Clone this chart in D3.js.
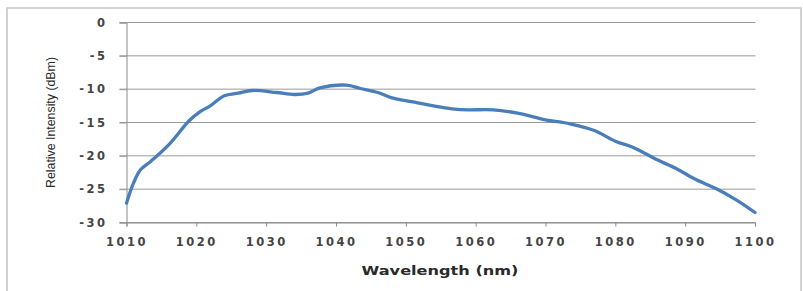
<!DOCTYPE html>
<html>
<head>
<meta charset="utf-8">
<script src="https://cdn.jsdelivr.net/npm/d3@7"></script>
<style>
  body { margin: 0; background: #fff; }
  svg { display: block; }
</style>
</head>
<body>
<div id="chart"></div>
<script>
// spectrum
var wavelength = [1010, 1011, 1012, 1013.5, 1016, 1019, 1020.5, 1022, 1024, 1026, 1028, 1031.5, 1034, 1036, 1037.7, 1041.5, 1043.5, 1046, 1048, 1051, 1055, 1057, 1059, 1062.5, 1066, 1070, 1073.5, 1077, 1080, 1082.5, 1086, 1088.7, 1091.6, 1094.4, 1097.3, 1100];
var intensity = [-27.1, -24.1, -22.1, -20.8, -18.4, -14.7, -13.4, -12.5, -11.0, -10.6, -10.2, -10.5, -10.8, -10.6, -9.8, -9.4, -9.9, -10.5, -11.3, -11.9, -12.7, -13.0, -13.1, -13.1, -13.6, -14.6, -15.2, -16.2, -17.8, -18.7, -20.6, -21.9, -23.6, -24.9, -26.6, -28.5];
var xTicks = [1010, 1020, 1030, 1040, 1050, 1060, 1070, 1080, 1090, 1100];
var yTicks = [0, -5, -10, -15, -20, -25, -30];

var width = 803, height = 291;
var margin = {top: 22.5, right: 48, bottom: 68.5, left: 126.5};

var svg = d3.select("#chart").append("svg")
  .attr("width", width)
  .attr("height", height);

// outer frame
svg.append("rect")
  .attr("x", 7).attr("y", 8)
  .attr("width", 794).attr("height", 300)
  .attr("fill", "none")
  .attr("stroke", "#c4c4c4")
  .attr("stroke-width", 1.5);

var x = d3.scaleLinear().domain([1010, 1100]).range([margin.left, width - margin.right]);
var y = d3.scaleLinear().domain([-30, 0]).range([height - margin.bottom, margin.top]);

var fmt = function(d) { return String(d); }; // plain hyphen, like the original

// gridlines
svg.append("g")
  .selectAll("line")
  .data(yTicks)
  .enter().append("line")
  .attr("x1", margin.left - 7)
  .attr("x2", x(1100) + 0.5)
  .attr("y1", function(d) { return y(d); })
  .attr("y2", function(d) { return y(d); })
  .attr("stroke", "#9a9a9a")
  .attr("stroke-width", 1);

// y axis
var yAxis = svg.append("g")
  .attr("transform", "translate(" + margin.left + ",0)")
  .call(d3.axisLeft(y).tickValues(yTicks).tickSize(7).tickPadding(12).tickFormat(fmt));
yAxis.select(".domain").attr("stroke", "#8a8a8a");
yAxis.selectAll(".tick line").attr("stroke", "#9a9a9a");
yAxis.selectAll("text")
  .style("font-family", "DejaVu Sans")
  .style("font-size", "11.5px")
  .style("font-weight", "bold")
  .style("letter-spacing", "2.5px")
  .attr("fill", "#444");

// x axis
var xAxis = svg.append("g")
  .attr("transform", "translate(0," + y(-30) + ")")
  .call(d3.axisBottom(x).tickValues(xTicks).tickSize(4).tickPadding(11).tickFormat(fmt));
xAxis.select(".domain").attr("stroke", "#8a8a8a");
xAxis.selectAll(".tick line").attr("stroke", "#8a8a8a");
xAxis.selectAll("text")
  .style("font-family", "DejaVu Sans")
  .style("font-size", "11.5px")
  .style("font-weight", "bold")
  .style("letter-spacing", "2.5px")
  .attr("fill", "#444");

// line
var pts = wavelength.map(function(d, i) { return [d, intensity[i]]; });
var line = d3.line()
  .x(function(d) { return x(d[0]); })
  .y(function(d) { return y(d[1]); })
  .curve(d3.curveCatmullRom.alpha(0.5));

svg.append("path")
  .datum(pts)
  .attr("d", line)
  .attr("fill", "none")
  .attr("stroke", "#4a7ebb")
  .attr("stroke-width", 3.3)
  .attr("stroke-linejoin", "round")
  .attr("stroke-linecap", "round");

// axis titles
svg.append("text")
  .attr("x", 440).attr("y", 275)
  .attr("text-anchor", "middle")
  .attr("textLength", 157)
  .attr("lengthAdjust", "spacingAndGlyphs")
  .style("font-family", "DejaVu Sans")
  .style("font-size", "12.5px")
  .style("font-weight", "bold")
  .attr("fill", "#2a2a2a")
  .text("Wavelength (nm)");

svg.append("text")
  .attr("transform", "translate(55,122.5) rotate(-90)")
  .attr("text-anchor", "middle")
  .attr("textLength", 131)
  .attr("lengthAdjust", "spacingAndGlyphs")
  .style("font-family", "Liberation Sans")
  .style("font-size", "13px")
  .attr("fill", "#2a2a2a")
  .text("Relative Intensity (dBm)");
</script>
</body>
</html>
